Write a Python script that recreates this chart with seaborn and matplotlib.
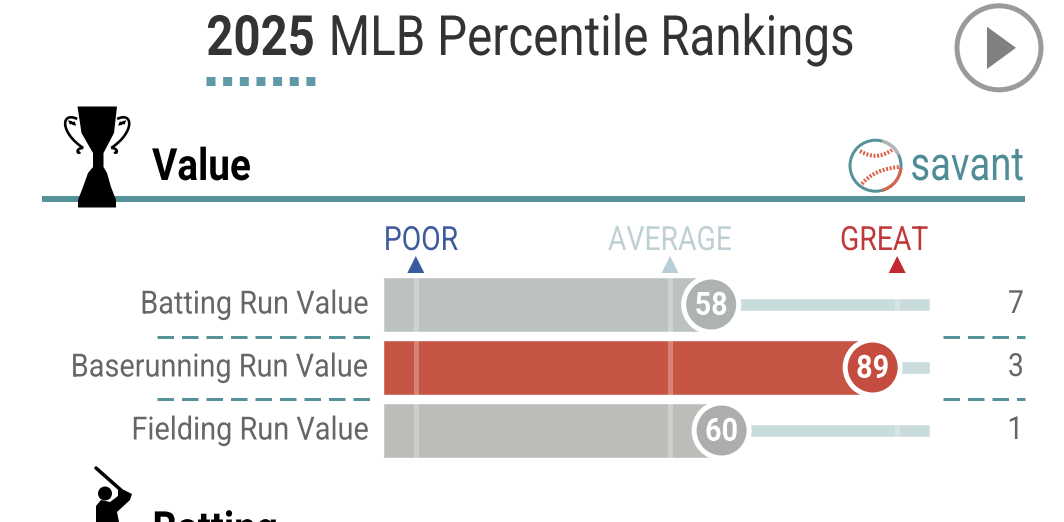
import matplotlib
matplotlib.use('Agg')
import matplotlib.pyplot as plt
import seaborn as sns
import numpy as np
from matplotlib.patches import Polygon, Circle, Arc, PathPatch
from matplotlib.patheffects import AbstractPathEffect
from matplotlib.path import Path
from matplotlib.transforms import Affine2D, ScaledTranslation

# data
metrics = ['Batting Run Value', 'Baserunning Run Value', 'Fielding Run Value']
percentiles = [58, 89, 60]
run_values = [7, 3, 1]
bar_colors = ['#bcc2c2', '#c75545', '#bdbcb9']
dot_colors = ['#adb2b3', '#c44d3f', '#adadad']
ref_names = ['POOR', 'AVERAGE', 'GREAT']
ref_colors = ['#3d5a9c', '#bfd0d4', '#c0383a']
tri_colors = ['#3a5ba0', '#b8ced6', '#c3272f']
ref_lines = [1.3, 50.1, 93.7]
ref_label_x = [2.3, 50.1, 91.2]

TEAL = '#56929a'
PX = 72 / 100  # points per pixel


class Squeeze(AbstractPathEffect):
    # Roboto Condensed is not installed, so narrow Roboto when it is drawn
    def __init__(self, fx, anchor='left'):
        super().__init__()
        self.fx = fx
        self.anchor = anchor

    def draw_path(self, renderer, gc, tpath, affine, rgbFace=None):
        box = tpath.get_extents(affine)
        x0 = {'left': box.x0, 'right': box.x1, 'center': (box.x0 + box.x1) / 2}[self.anchor]
        squeeze = Affine2D().translate(-x0, 0).scale(self.fx, 1).translate(x0, 0)
        renderer.draw_path(gc, tpath, affine + squeeze, rgbFace)


sns.set_theme(style='white')
plt.rcParams['font.family'] = ['Roboto', 'DejaVu Sans']

W, H = 1064, 522
fig = plt.figure(figsize=(W / 100, H / 100), dpi=100)

# background layer in pixel coordinates, for title, rule and icons
bg = fig.add_axes([0, 0, 1, 1])
bg.set_xlim(0, W)
bg.set_ylim(H, 0)
bg.axis('off')

bg.text(206, 55, '2025', fontsize=40, fontweight='bold', color='#333333',
        path_effects=[Squeeze(0.851)])
bg.text(328, 55, 'MLB Percentile Rankings', fontsize=40, color='#333333',
        path_effects=[Squeeze(0.855)])
bg.plot([206, 315], [80.5, 80.5], color='#5f9aa8', lw=9 * PX,
        linestyle=(0, (1.0, 0.85)), dash_capstyle='butt')

# play button
bg.add_patch(Circle((999, 47.8), 42, fill=False, ec='#9a9a9a', lw=5 * PX))
bg.add_patch(Polygon([(987, 26.7), (987, 69), (1016, 47.8)], fc='#808080', ec='none'))

# section header
bg.plot([42, 1025], [198.7, 198.7], color=TEAL, lw=6 * PX, solid_capstyle='butt')
bg.text(152, 180, 'Value', fontsize=32, fontweight='bold', color='black',
        path_effects=[Squeeze(0.87)])
bg.text(910, 180, 'savant', fontsize=34, color='#4f8d96', path_effects=[Squeeze(0.81)])

# trophy
bg.add_patch(Polygon([(77.5, 106.5), (117, 106.5), (114, 133), (103.5, 153), (103.5, 167),
                      (107, 173), (111, 187), (116, 200), (116, 207.5), (78, 207.5),
                      (78, 200), (83, 187), (88, 173), (93, 167), (93, 153), (81.5, 133)],
                     fc='black', ec='none', zorder=3))
codes4 = [Path.MOVETO] + [Path.CURVE4] * 3
for sx in [-1, 1]:
    outer = [(97.2 + sx * dx, y) for dx, y in [(20, 119), (36, 111), (38, 132), (14, 148)]]
    curl = [(97.2 + sx * dx, y) for dx, y in [(26, 124), (30, 118), (20, 128), (24, 122)]]
    foot = [(97.2 + sx * dx, y) for dx, y in [(14, 148), (22, 148), (20, 155), (17, 152)]]
    for pts in [outer, curl, foot]:
        bg.add_patch(PathPatch(Path(pts, codes4), fill=False, ec='black', lw=2.6 * PX, zorder=3))

# baseball logo
cx, cy, r = 875.5, 165.7, 25.5
bg.add_patch(Circle((cx, cy), r, fill=False, ec=TEAL, lw=3 * PX))
bg.add_patch(Arc((cx, cy), 2 * r, 2 * r, theta1=-75, theta2=-25, ec='#b5b5b5', lw=3 * PX))
bg.add_patch(Arc((cx, cy), 2 * r, 2 * r, theta1=5, theta2=75, ec='#d9644a', lw=3 * PX))
seams = [[(860, 151), (876, 161), (892, 150)], [(862, 184), (874, 169), (899, 167)]]
for s in seams:
    bg.add_patch(PathPatch(Path(s, [Path.MOVETO, Path.CURVE3, Path.CURVE3]), fill=False,
                           ec='#d9644a', lw=4 * PX, linestyle=(0, (0.5, 0.4))))

# batter, cut off by the bottom edge
bg.plot([96, 122], [468, 491], color='black', lw=3.5 * PX, solid_capstyle='round')
bg.add_patch(Circle((105, 493.5), 7, fc='black', ec='none'))
bg.add_patch(Polygon([(118, 489), (124, 490), (132, 494), (130, 500), (117, 512), (119, 522),
                      (96, 522), (96, 506), (101, 500), (110, 502), (118, 496)],
                     fc='black', ec='none'))
bg.text(152, 543, 'Batting', fontsize=32, fontweight='bold', color='black',
        path_effects=[Squeeze(0.87)])

# dashed separators between rows
for y in [336.7, 399.3]:
    for x0, x1 in [(157, 371), (943, 1025)]:
        bg.plot([x0, x1], [y, y], color=TEAL, lw=3 * PX,
                linestyle=(0, (16.5 / 3, 8 / 3)), dash_capstyle='butt')

# bars, x in percentile units
top, bottom = 273, 462
ax = fig.add_axes([383 / W, 1 - bottom / H, (930 - 383) / W, (bottom - top) / H])
ax.patch.set_alpha(0)
rows = np.arange(len(metrics))

sns.barplot(x=[100] * len(metrics), y=metrics, color='#c9dbdb', saturation=1,
            width=0.21, ax=ax)
n_track = len(ax.patches)
sns.barplot(x=percentiles, y=metrics, hue=metrics, palette=bar_colors, saturation=1,
            width=0.862, legend=False, dodge=False, ax=ax)
for p in ax.patches[n_track:]:
    right = p.get_x() + p.get_width()
    p.set_x(-5)
    p.set_width(right + 5)

# reference lines, lighter stripes through each row
for i, pct in enumerate(percentiles):
    for ref in ref_lines:
        h = 0.862 / 2 if ref < pct else 0.21 / 2
        ax.vlines(ref, i - h, i + h, color='white', alpha=0.27, lw=5 * PX, zorder=4)

sns.scatterplot(x=percentiles, y=rows, hue=metrics, palette=dot_colors, s=(55 * PX) ** 2,
                edgecolor='white', linewidth=5 * PX, legend=False, ax=ax, zorder=5,
                clip_on=False)

for i, pct in enumerate(percentiles):
    ax.text(pct, i + 0.02, str(pct), ha='center', va='center', fontsize=23,
            fontweight='bold', color='white', zorder=6, path_effects=[Squeeze(0.9, 'center')])
    ax.text(1.172, i, str(run_values[i]), transform=ax.get_yaxis_transform(),
            ha='right', va='center', fontsize=23, color='#666666',
            path_effects=[Squeeze(0.88, 'right')])

# POOR / AVERAGE / GREAT markers
sns.scatterplot(x=ref_lines, y=[-0.635] * 3, hue=ref_names, palette=tri_colors, marker='^',
                s=(17 * PX) ** 2, linewidth=0, legend=False, ax=ax, clip_on=False)
for name, x, c in zip(ref_names, ref_label_x, ref_colors):
    ax.text(x, -1.008, name, ha='center', va='center', fontsize=24, color=c,
            path_effects=[Squeeze(0.85, 'center')])

ax.set_xlim(-5, 100)
ax.set_ylim(2.5, -0.5)
ax.set_xlabel('')
ax.set_ylabel('')
ax.set_xticks([])
ax.set_yticks(rows)
ax.set_yticklabels(metrics, fontsize=23, color='#666666')
ax.tick_params(axis='y', length=0, pad=13 * PX)
lift = ScaledTranslation(0, 2.5 / 100, fig.dpi_scale_trans)
for label in ax.get_yticklabels():
    label.set_transform(label.get_transform() + lift)
    label.set_path_effects([Squeeze(0.905, 'right')])
sns.despine(ax=ax, left=True, bottom=True)

fig.savefig('out.png', dpi=100)
